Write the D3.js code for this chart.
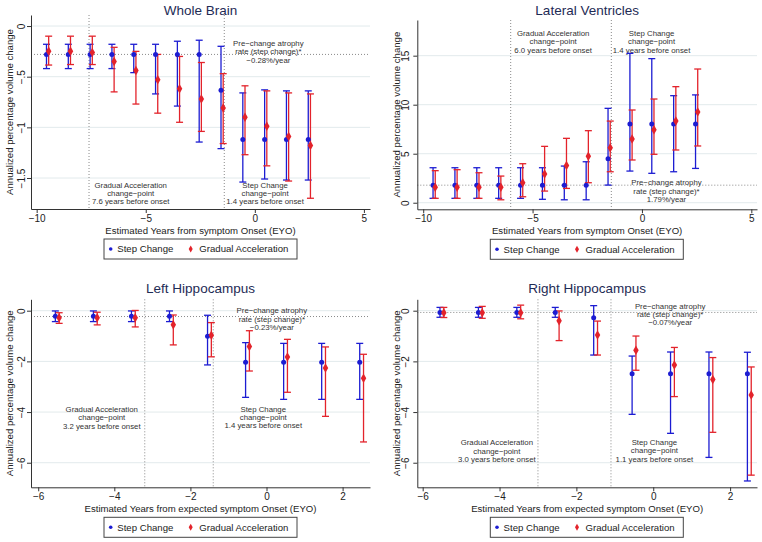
<!DOCTYPE html>
<html><head><meta charset="utf-8">
<script src="https://cdn.jsdelivr.net/npm/d3@7"></script>
<style>
body{margin:0;background:#fff}
svg{display:block}
text{font-family:"Liberation Sans",Arial,Helvetica,sans-serif}
</style>
</head><body>
<svg id="c" width="762" height="542"></svg>
<script>
// ---------- Data ----------
const seriesNames = ["Step Change", "Gradual Acceleration"];

// Whole Brain
const wbX = [-9.5,-8.5,-7.5,-6.5,-5.5,-4.5,-3.5,-2.5,-1.5,-0.5,0.5,1.5,2.5];
const wbStep   = [-0.28,-0.28,-0.28,-0.28,-0.28,-0.28,-0.28,-0.28,-0.635,-1.12,-1.12,-1.12,-1.12];
const wbStepHi = [-0.18,-0.18,-0.18,-0.18,-0.18,-0.18,-0.15,-0.14,-0.2,-0.66,-0.63,-0.64,-0.64];
const wbStepLo = [-0.42,-0.42,-0.42,-0.42,-0.46,-0.67,-0.79,-1.145,-1.21,-1.54,-1.51,-1.52,-1.52];
const wbGrad   = [-0.25,-0.25,-0.26,-0.35,-0.44,-0.53,-0.62,-0.72,-0.81,-0.90,-0.99,-1.09,-1.18];
const wbGradHi = [-0.1,-0.1,-0.1,-0.21,-0.25,-0.28,-0.30,-0.36,-0.47,-0.59,-0.64,-0.66,-0.67];
const wbGradLo = [-0.385,-0.38,-0.38,-0.65,-0.77,-0.86,-0.95,-1.04,-1.16,-1.27,-1.38,-1.53,-1.70];

// Lateral Ventricles
const lvX = [-9.5,-8.5,-7.5,-6.5,-5.5,-4.5,-3.5,-2.5,-1.5,-0.5,0.5,1.5,2.5];
const lvStep   = [1.79,1.79,1.79,1.79,1.79,1.79,1.79,1.79,4.49,8.03,8.03,8.03,8.03];
const lvStepHi = [3.57,3.57,3.57,3.57,3.57,3.57,3.74,4.18,9.63,15.24,14.7,10.92,11.0];
const lvStepLo = [0.45,0.45,0.45,0.45,0.45,0.35,0.3,0.3,1.8,3.23,3.0,3.16,3.5];
const lvGrad   = [1.57,1.57,1.57,1.57,2.04,2.93,3.81,4.73,5.61,6.5,7.45,8.33,9.26];
const lvGradHi = [3.27,3.37,3.06,2.72,3.98,5.75,6.57,7.35,8.33,9.46,10.58,11.84,13.64];
const lvGradLo = [0.45,0.45,0.45,0.3,0.61,1.19,1.46,2.04,3.16,4.36,4.94,5.38,5.79];

// Left Hippocampus
const lhX = [-5.5,-4.5,-3.5,-2.5,-1.5,-0.5,0.5,1.5,2.5];
const lhStep   = [-0.22,-0.22,-0.22,-0.22,-1.01,-2.03,-2.03,-2.03,-2.03];
const lhStepHi = [-0.01,-0.01,-0.01,-0.01,-0.18,-1.26,-1.29,-1.29,-1.29];
const lhStepLo = [-0.43,-0.43,-0.43,-0.43,-2.14,-3.42,-3.5,-3.5,-3.5];
const lhGrad   = [-0.28,-0.28,-0.28,-0.55,-0.97,-1.41,-1.83,-2.26,-2.67];
const lhGradHi = [-0.08,-0.06,0.01,-0.17,-0.47,-0.79,-1.13,-1.43,-1.72];
const lhGradLo = [-0.5,-0.56,-0.64,-1.35,-1.82,-2.38,-3.22,-4.17,-5.18];

// Right Hippocampus
const rhX = [-5.5,-4.5,-3.5,-2.5,-1.5,-0.5,0.5,1.5,2.5];
const rhStep   = [-0.07,-0.07,-0.07,-0.07,-0.28,-2.49,-2.49,-2.49,-2.49];
const rhStepHi = [0.13,0.13,0.13,0.13,0.2,-1.79,-1.63,-1.63,-1.64];
const rhStepLo = [-0.26,-0.26,-0.26,-0.26,-1.75,-4.09,-4.84,-5.79,-6.72];
const rhGrad   = [-0.08,-0.08,-0.08,-0.4,-0.96,-1.56,-2.14,-2.72,-3.33];
const rhGradHi = [0.13,0.17,0.22,-0.01,-0.41,-1.0,-1.45,-1.85,-2.22];
const rhGradLo = [-0.27,-0.3,-0.32,-1.18,-1.75,-2.35,-3.39,-4.8,-6.49];

// Titles, change points, pre-change rates
const panelTitles = ["Whole Brain","Lateral Ventricles","Left Hippocampus","Right Hippocampus"];
const gradualCP = [-7.6, -6.0, -3.2, -3.0];
const stepCP    = [-1.4, -1.4, -1.4, -1.1];
const preRate   = [-0.28, 1.79, -0.23, -0.07];
const preRateText = ["−0.28%/year","1.79%/year","−0.23%/year","−0.07%/year"];
const xTitles = ["Estimated Years from symptom Onset (EYO)","Estimated Years from symptom Onset (EYO)",
                 "Estimated Years from expected symptom Onset (EYO)","Estimated Years from expected symptom Onset (EYO)"];
const yTitle = "Annualized percentage volume change";

// Ticks
const eyoTicks = [-10,-5,0,5];
const hipXTicks = [-6,-4,-2,0,2];
const wbYTicks = [0,-0.5,-1,-1.5];
const lvYTicks = [0,5,10,15];
const hipYTicks = [0,-2,-4,-6];

// ---------- Layout / styling ----------
const BLUE = "#1c1cd2", RED = "#e3232b";
const svg = d3.select("#c");

const panels = [
  {l:31, r:370, t:15, b:209, xDom:[-10.26,5.28], yDom:[-1.806,0.109],
   x:wbX, s:wbStep, sh:wbStepHi, sl:wbStepLo, g:wbGrad, gh:wbGradHi, gl:wbGradLo,
   xt:eyoTicks, yt:wbYTicks, tickOff:6,
   annPre:[0.62,-0.171], annGrad:[-5.69,-1.569], annStep:[0.47,-1.569]},
  {l:417.3, r:757, t:20, b:209.3, xDom:[-10.27,5.26], yDom:[-0.67,18.64],
   x:lvX, s:lvStep, sh:lvStepHi, sl:lvStepLo, g:lvGrad, gh:lvGradHi, gl:lvGradLo,
   xt:eyoTicks, yt:lvYTicks, tickOff:8,
   annPre:[1.12,2.04], annGrad:[-4.06,17.29], annStep:[0.44,17.29]},
  {l:31, r:370, t:299.3, b:487.3, xDom:[-6.19,2.72], yDom:[-6.97,0.45],
   x:lhX, s:lhStep, sh:lhStepHi, sl:lhStepLo, g:lhGrad, gh:lhGradHi, gl:lhGradLo,
   xt:hipXTicks, yt:hipYTicks, tickOff:6,
   annPre:[0.14,0.0], annGrad:[-4.33,-3.89], annStep:[-0.085,-3.88]},
  {l:417.3, r:757, t:299.3, b:487.3, xDom:[-6.14,2.70], yDom:[-6.97,0.45],
   x:rhX, s:rhStep, sh:rhStepHi, sl:rhStepLo, g:rhGrad, gh:rhGradHi, gl:rhGradLo,
   xt:hipXTicks, yt:hipYTicks, tickOff:8,
   annPre:[0.44,0.19], annGrad:[-4.07,-5.21], annStep:[0.03,-5.2]}
];

function fmt(v){
  let s = String(Math.abs(v));
  if (s.startsWith("0.")) s = s.slice(1);
  return (v < 0 ? "−" : "") + s;
}

panels.forEach((p, i) => {
  const x = d3.scaleLinear().domain(p.xDom).range([p.l, p.r]);
  const y = d3.scaleLinear().domain(p.yDom).range([p.b, p.t]);
  const g = svg.append("g");

  // gridlines
  g.selectAll(".grid").data(p.yt).join("line")
    .attr("x1", p.l).attr("x2", p.r)
    .attr("y1", d => y(d)).attr("y2", d => y(d))
    .attr("stroke", "#e2eaec").attr("stroke-width", 1);

  // dotted reference lines
  [gradualCP[i], stepCP[i]].forEach(v => {
    g.append("line").attr("x1", x(v)).attr("x2", x(v)).attr("y1", p.t).attr("y2", p.b)
      .attr("stroke", "#8a8a8a").attr("stroke-width", 1).attr("stroke-dasharray", "1,2");
  });
  g.append("line").attr("x1", p.l).attr("x2", p.r).attr("y1", y(preRate[i])).attr("y2", y(preRate[i]))
    .attr("stroke", "#8a8a8a").attr("stroke-width", 1).attr("stroke-dasharray", "1,2");

  // axes
  const ya = g.append("g").attr("transform", `translate(${p.l},0)`)
    .call(d3.axisLeft(y).tickValues(p.yt).tickSize(4).tickSizeOuter(0).tickFormat(fmt));
  ya.selectAll(".tick text")
    .attr("x", null).attr("dy", null)
    .attr("transform", `translate(${-p.tickOff},0) rotate(-90)`)
    .attr("text-anchor", "middle");
  const xa = g.append("g").attr("transform", `translate(0,${p.b})`)
    .call(d3.axisBottom(x).tickValues(p.xt).tickSize(4).tickSizeOuter(0).tickPadding(2).tickFormat(fmt));
  [ya, xa].forEach(a => {
    a.attr("font-family", null).attr("font-size", null);
    a.select(".domain").attr("stroke", "#333");
    a.selectAll(".tick line").attr("stroke", "#333");
    a.selectAll(".tick text").attr("font-size", "10px").attr("fill", "#222");
  });

  // titles
  const cx = (p.l + p.r) / 2;
  svg.append("text").attr("x", cx).attr("y", p.t - (i < 2 ? (i === 0 ? 0 : 5) : 6.3))
    .attr("text-anchor", "middle").attr("font-size", "13.5px").attr("fill", "#1e2b55")
    .text(panelTitles[i]);
  svg.append("text").attr("x", cx).attr("y", p.b + 24.5)
    .attr("text-anchor", "middle").attr("font-size", "9.6px").attr("fill", "#222")
    .text(xTitles[i]);
  svg.append("text").attr("transform", `translate(${p.l - 21},${(p.t + p.b) / 2}) rotate(-90)`)
    .attr("text-anchor", "middle").attr("dy", "0.35em").attr("font-size", "9.6px").attr("fill", "#222")
    .text(yTitle);

  // annotations
  const ann = (pos, lines) => {
    lines.forEach((t, k) => {
      g.append("text").attr("x", x(pos[0])).attr("y", y(pos[1]) + k * 8.3)
        .attr("dy", "0.35em").attr("text-anchor", "middle")
        .attr("font-size", "7.8px").attr("fill", "#333").text(t);
    });
  };
  ann(p.annPre, ["Pre−change atrophy", "rate (step change)*", preRateText[i]]);
  ann(p.annGrad, ["Gradual Acceleration", "change−point", `${Math.abs(gradualCP[i]).toFixed(1)} years before onset`]);
  ann(p.annStep, ["Step Change", "change−point", `${Math.abs(stepCP[i]).toFixed(1)} years before onset`]);

  // error bars
  const cap = 3.5;
  const drawBars = (vals, hi, lo, off, col) => {
    const d = p.x.map((cx0, k) => ({cx: cx0 + off, v: vals[k], hi: hi[k], lo: lo[k]}));
    const eg = g.append("g").attr("stroke", col).attr("stroke-width", 1.3);
    eg.selectAll(".v").data(d).join("line")
      .attr("x1", e => x(e.cx)).attr("x2", e => x(e.cx))
      .attr("y1", e => y(e.hi)).attr("y2", e => y(e.lo));
    eg.selectAll(".ch").data(d).join("line")
      .attr("x1", e => x(e.cx) - cap).attr("x2", e => x(e.cx) + cap)
      .attr("y1", e => y(e.hi)).attr("y2", e => y(e.hi));
    eg.selectAll(".cl").data(d).join("line")
      .attr("x1", e => x(e.cx) - cap).attr("x2", e => x(e.cx) + cap)
      .attr("y1", e => y(e.lo)).attr("y2", e => y(e.lo));
    return d;
  };
  const dS = drawBars(p.s, p.sh, p.sl, -0.05, BLUE);
  const dG = drawBars(p.g, p.gh, p.gl, 0.05, RED);
  g.selectAll(".ps").data(dS).join("circle")
    .attr("cx", e => x(e.cx)).attr("cy", e => y(e.v)).attr("r", 2.5).attr("fill", BLUE);
  g.selectAll(".pg").data(dG).join("path")
    .attr("transform", e => `translate(${x(e.cx)},${y(e.v)})`)
    .attr("d", d3.symbol(d3.symbolDiamond, 26)).attr("fill", RED);

  // legend
  const lx = p.l + 73, ly = p.b + 30;
  const lg = svg.append("g");
  lg.append("rect").attr("x", lx).attr("y", ly).attr("width", 193).attr("height", 20)
    .attr("fill", "#fff").attr("stroke", "#444").attr("stroke-width", 1);
  lg.append("circle").attr("cx", lx + 6.7).attr("cy", ly + 10).attr("r", 1.8).attr("fill", BLUE);
  lg.append("text").attr("x", lx + 13.3).attr("y", ly + 10).attr("dy", "0.35em")
    .attr("font-size", "9.6px").attr("fill", "#222").text(seriesNames[0]);
  lg.append("path").attr("transform", `translate(${lx + 86.7},${ly + 10})`)
    .attr("d", d3.symbol(d3.symbolDiamond, 14)).attr("fill", RED);
  lg.append("text").attr("x", lx + 95.3).attr("y", ly + 10).attr("dy", "0.35em")
    .attr("font-size", "9.6px").attr("fill", "#222").text(seriesNames[1]);
});
</script>
</body></html>
